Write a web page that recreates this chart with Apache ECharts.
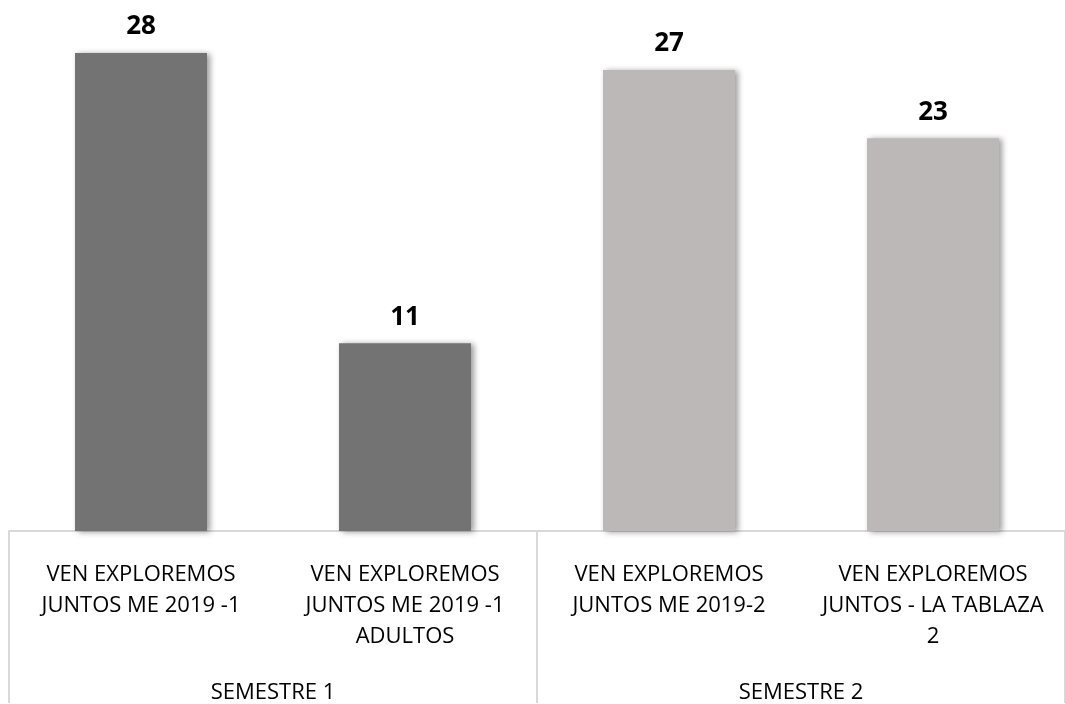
<!DOCTYPE html>
<html>
<head>
<meta charset="utf-8">
<script src="https://cdn.jsdelivr.net/npm/echarts@6/dist/echarts.min.js"></script>
<style>
  html, body { margin: 0; padding: 0; background: #fff; }
  #chart { width: 1065px; height: 704px; }
</style>
</head>
<body>
<div id="chart"></div>
<script>
// datos del gráfico
var categorias = [
  'VEN EXPLOREMOS\nJUNTOS ME 2019 -1',
  'VEN EXPLOREMOS\nJUNTOS ME 2019 -1\nADULTOS',
  'VEN EXPLOREMOS\nJUNTOS ME 2019-2',
  'VEN EXPLOREMOS\nJUNTOS - LA TABLAZA\n2'
]
var semestres = ['SEMESTRE 1', 'SEMESTRE 2']
var valores = [28, 11, 27, 23]
var colores = ['#737373', '#737373', '#bcb8b7', '#bcb8b7']

var myChart = echarts.init(document.getElementById('chart'))

var lineaGris = '#d9d9d9'

var option = {
  animation: false,
  grid: { left: 9, width: 1059, top: 53, height: 480 },
  xAxis: [{
    type: 'category',
    data: categorias,
    position: 'bottom',
    axisLine: { show: true, lineStyle: { color: lineaGris, width: 2 } },
    axisTick: { show: false },
    axisLabel: {
      interval: 0,
      margin: 28,
      color: '#000',
      fontFamily: 'Open Sans',
      fontSize: 22,
      lineHeight: 31,
      align: 'center'
    }
  }, {
    // segundo nivel: semestres
    type: 'category',
    data: semestres,
    position: 'bottom',
    axisLine: { show: false },
    axisTick: {
      show: true,
      inside: false,
      length: 172,
      lineStyle: { color: lineaGris, width: 2 }
    },
    axisLabel: {
      interval: 0,
      margin: 151,
      color: '#000',
      fontFamily: 'Open Sans',
      fontSize: 22
    }
  }],
  yAxis: {
    type: 'value',
    min: 0,
    max: 28,
    show: false,
    splitLine: { show: false }
  },
  series: [{
    type: 'bar',
    xAxisIndex: 0,
    barWidth: '50%',
    data: valores.map(function (v, i) {
      return { value: v, itemStyle: { color: colores[i] } }
    }),
    itemStyle: {
      shadowColor: 'rgba(0,0,0,0.4)',
      shadowBlur: 6,
      shadowOffsetX: 3,
      shadowOffsetY: 1
    },
    label: {
      show: true,
      position: 'top',
      distance: 13,
      color: '#000',
      fontFamily: 'Open Sans',
      fontWeight: 'bold',
      fontSize: 26
    }
  }]
}
myChart.setOption(option)

window.addEventListener('resize', function () {
  myChart.resize()
})
</script>
</body>
</html>
